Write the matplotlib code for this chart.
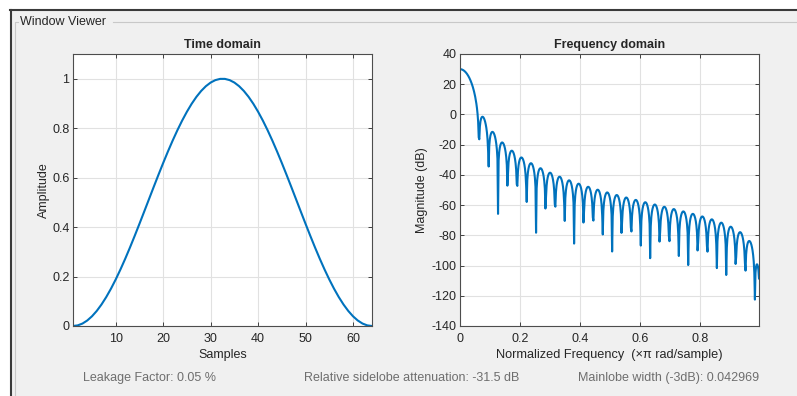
import numpy as np
import matplotlib
matplotlib.use("Agg")
import matplotlib.pyplot as plt
from matplotlib.patches import Rectangle
from matplotlib.lines import Line2D

plt.rcParams['font.family'] = ['Liberation Sans', 'DejaVu Sans']
plt.rcParams['axes.unicode_minus'] = False

# 64-point window samples (first half, curve is symmetric)
half = [0.000000000, 0.002484612, 0.009913756, 0.022213597, 0.039261894, 0.060889213,
        0.086880613, 0.116977778, 0.150881591, 0.188255099, 0.228726868, 0.271894671,
        0.317329488, 0.364579766, 0.413175911, 0.462634953, 0.512465346, 0.562171852,
        0.611260467, 0.659243325, 0.705643552, 0.750000000, 0.791871836, 0.830842919,
        0.866525936, 0.898566254, 0.926645441, 0.950484434, 0.969846310, 0.984538643,
        0.994415413, 0.999378461]
window = np.array(half + half[::-1])
samples = np.arange(1, len(window) + 1)

# frequency response of the window (1024-point FFT, first half)
nfft = 1024
H = np.fft.fft(window, nfft)[:nfft // 2]
freq = np.arange(nfft // 2) / (nfft // 2)
mag_db = 20 * np.log10(np.abs(H) + 1e-300)

info = ["Leakage Factor: 0.05 %",
        "Relative sidelobe attenuation: -31.5 dB",
        "Mainlobe width (-3dB): 0.042969"]

W, Hh = 797, 396
blue = '#0072BD'
dark = '#262626'

fig = plt.figure(figsize=(W / 100, Hh / 100), dpi=100)
fig.patch.set_facecolor('white')

def fx(x):
    return x / W

def fy(y):
    return 1 - y / Hh

fig.patches.append(Rectangle((fx(10), 0), 1 - fx(10), fy(10), transform=fig.transFigure,
                             facecolor='#f0f0f0', edgecolor='none', zorder=-10))
fig.lines.append(Line2D([fx(10), 1], [fy(10), fy(10)], transform=fig.transFigure,
                        color='#3a3a3a', lw=1.5))
fig.lines.append(Line2D([fx(10.5), fx(10.5)], [0, fy(10)], transform=fig.transFigure,
                        color='#3a3a3a', lw=1.5))
# panel border
fig.lines.append(Line2D([fx(15), fx(15), fx(18)], [0, fy(22), fy(22)], transform=fig.transFigure,
                        color='#c8c8c8', lw=0.8))
fig.lines.append(Line2D([fx(113), 1], [fy(22), fy(22)], transform=fig.transFigure,
                        color='#c8c8c8', lw=0.8))
fig.text(fx(20), fy(22), "Window Viewer", fontsize=9, color=dark, va='center', ha='left')

def style(ax):
    ax.set_facecolor('white')
    ax.grid(True, color='#e1e1e1', lw=0.8)
    ax.set_axisbelow(True)
    ax.tick_params(direction='in', length=3, width=0.6, colors=dark, labelsize=9,
                   top=True, right=True)
    ax.tick_params(axis='x', pad=5)
    ax.tick_params(axis='y', pad=2.5)
    for s in ax.spines.values():
        s.set_color('#4d4d4d')
        s.set_linewidth(0.8)

ax1 = fig.add_axes([fx(73), fy(326), fx(299), 272 / Hh])
ax1.plot(samples, window, color=blue, lw=1.5)
ax1.set_xlim(1, 64)
ax1.set_ylim(0, 1.1)
ax1.set_xticks([10, 20, 30, 40, 50, 60])
ax1.set_yticks([0, 0.2, 0.4, 0.6, 0.8, 1])
ax1.set_yticklabels(['0', '0.2', '0.4', '0.6', '0.8', '1'])
ax1.set_title("Time domain", fontsize=9, fontweight='bold', color=dark, pad=4)
ax1.set_xlabel("Samples", fontsize=9, color=dark, labelpad=3)
ax1.set_ylabel("Amplitude", fontsize=9, color=dark, va='center')
ax1.yaxis.set_label_coords((44 - 73) / 299, 0.5)
style(ax1)

ax2 = fig.add_axes([fx(460), fy(326), fx(299), 272 / Hh])
ax2.plot(freq, mag_db, color=blue, lw=1.5)
ax2.set_xlim(0, freq[-1])
ax2.set_ylim(-140, 40)
ax2.set_xticks([0, 0.2, 0.4, 0.6, 0.8])
ax2.set_xticklabels(['0', '0.2', '0.4', '0.6', '0.8'])
ax2.set_yticks(np.arange(-140, 41, 20))
ax2.set_title("Frequency domain", fontsize=9, fontweight='bold', color=dark, pad=4)
ax2.set_xlabel("Normalized Frequency  (\u00d7\u03c0 rad/sample)", fontsize=9.2, color=dark, labelpad=3)
ax2.set_ylabel("Magnitude (dB)", fontsize=9, color=dark, va='center')
ax2.yaxis.set_label_coords((422 - 460) / 299, 0.5)
style(ax2)

fig.text(fx(83), fy(378), info[0], fontsize=9, color='#6e6e6e', va='center', ha='left')
fig.text(fx(304), fy(378), info[1], fontsize=9, color='#6e6e6e', va='center', ha='left')
fig.text(fx(759), fy(378), info[2], fontsize=9, color='#6e6e6e', va='center', ha='right')

fig.savefig("out.png", dpi=100)
